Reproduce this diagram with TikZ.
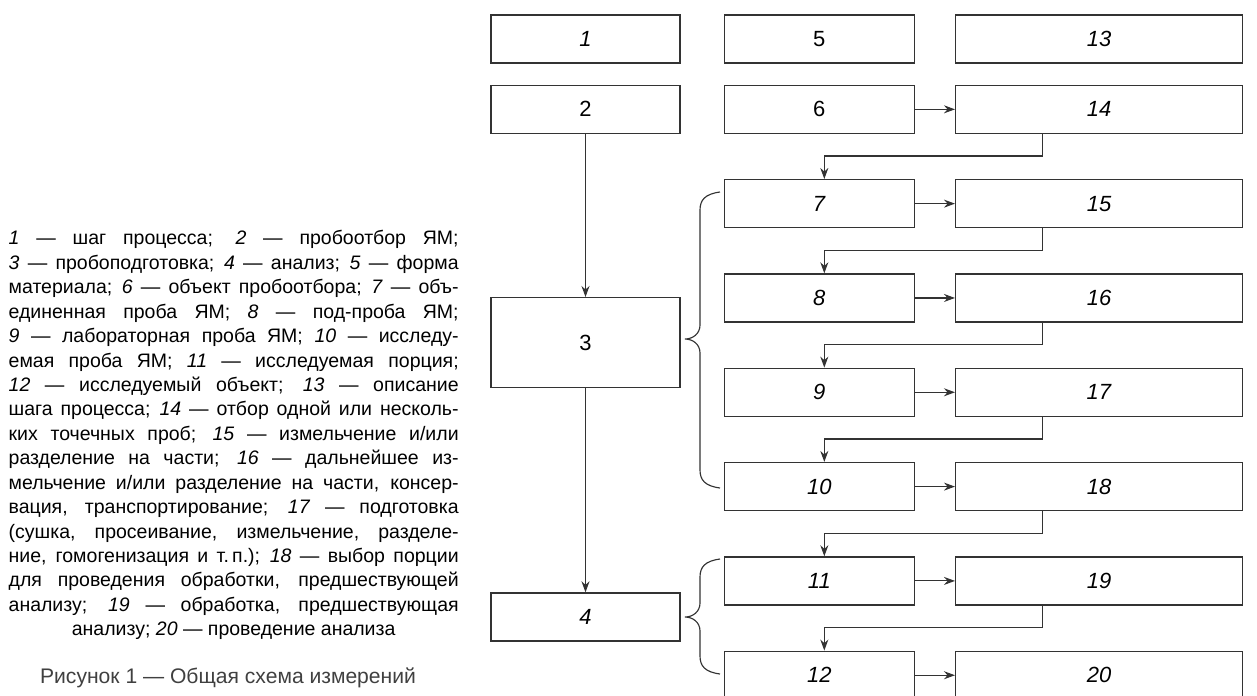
\documentclass[tikz,border=0pt]{standalone}
\usepackage{fontspec}
\setmainfont{Liberation Sans}
\usetikzlibrary{arrows.meta,positioning}

\begin{document}
\begin{tikzpicture}[
    line width=0.75pt, draw=black!80,
    boxa/.style={draw, minimum width=3.78cm, minimum height=0.96cm, font=\fontsize{12.5}{14}\selectfont},
    boxb/.style={draw, minimum width=3.8cm, minimum height=0.96cm, font=\fontsize{12.5}{14}\selectfont},
    boxc/.style={draw, minimum width=5.74cm, minimum height=0.96cm, font=\fontsize{12.5}{14}\selectfont},
    link/.style={-{Stealth[length=2.2mm, width=1.6mm]}, line width=0.65pt},
    brc/.style={line width=0.65pt},
    legend/.style={text width=9cm, align=justify, inner sep=0pt, font=\fontsize{11.1}{13.9}\selectfont}
]
\useasboundingbox (0,0) rectangle (25.14,-13.9);
% left column
\node[boxa] (n1) at (11.71,-0.78) {\textit{1}};
\node[boxa, below=0.42cm of n1] (n2) {2};
\node[boxa, below=3.26cm of n2, minimum height=1.8cm] (n3) {3};
\node[boxa, below=4.08cm of n3] (n4) {\textit{4}};
% middle column
\node[boxb, right=0.86cm of n1] (n5) {5};
\node[boxb, below=0.42cm of n5] (n6) {6};
\node[boxb, below=0.9cm of n6] (n7) {\textit{7}};
\node[boxb, below=0.9cm of n7] (n8) {\textit{8}};
\node[boxb, below=0.9cm of n8] (n9) {\textit{9}};
\node[boxb, below=0.9cm of n9] (n10) {\textit{10}};
\node[boxb, below=0.9cm of n10] (n11) {\textit{11}};
\node[boxb, below=0.9cm of n11] (n12) {\textit{12}};
% right column
\node[boxc, right=0.8cm of n5] (n13) {\textit{13}};
\node[boxc, right=0.8cm of n6] (n14) {\textit{14}};
\node[boxc, right=0.8cm of n7] (n15) {\textit{15}};
\node[boxc, right=0.8cm of n8] (n16) {\textit{16}};
\node[boxc, right=0.8cm of n9] (n17) {\textit{17}};
\node[boxc, right=0.8cm of n10] (n18) {\textit{18}};
\node[boxc, right=0.8cm of n11] (n19) {\textit{19}};
\node[boxc, right=0.8cm of n12] (n20) {\textit{20}};

\draw[link] (n2) -- (n3);
\draw[link] (n3) -- (n4);
\foreach \a/\b in {6/14,7/15,8/16,9/17,10/18,11/19,12/20}
    \draw[link] (n\a) -- (n\b);
\foreach \a/\b in {14/7,15/8,16/9,17/10,18/11,19/12}
    \draw[link] ([xshift=-1.13cm]n\a.south) -- ++(0,-0.44) -| ([xshift=0.1cm]n\b.north);

% braces
\draw[brc] (14.4,-3.84) .. controls (14.1,-3.88) and (14.0,-4.0) .. (14.0,-4.2) -- (14.0,-6.5)
    .. controls (14.0,-6.68) and (13.85,-6.78) .. (13.7,-6.78)
    .. controls (13.85,-6.78) and (14.0,-6.88) .. (14.0,-7.06) -- (14.0,-9.4)
    .. controls (14.0,-9.6) and (14.1,-9.72) .. (14.4,-9.76);
\draw[brc] (14.4,-11.18) .. controls (14.1,-11.22) and (14.0,-11.34) .. (14.0,-11.54) -- (14.0,-12.06)
    .. controls (14.0,-12.24) and (13.85,-12.34) .. (13.7,-12.34)
    .. controls (13.85,-12.34) and (14.0,-12.44) .. (14.0,-12.62) -- (14.0,-13.12)
    .. controls (14.0,-13.32) and (14.1,-13.44) .. (14.4,-13.48);

% legend and caption
\node[legend, anchor=north west] (leg) at (0.16,-4.6) {\noindent\parfillskip=0pt
\textit{1} — шаг процесса; \textit{2} — пробоотбор ЯМ;\linebreak
\textit{3} — пробоподготовка; \textit{4} — анализ; \textit{5} — форма\linebreak
материала; \textit{6} — объект пробоотбора; \textit{7} — объ-\linebreak
единенная проба ЯМ; \textit{8} — под-проба ЯМ;\linebreak
\textit{9} — лабораторная проба ЯМ; \textit{10} — исследу-\linebreak
емая проба ЯМ; \textit{11} — исследуемая порция;\linebreak
\textit{12} — исследуемый объект; \textit{13} — описание\linebreak
шага процесса; \textit{14} — отбор одной или несколь-\linebreak
ких точечных проб; \textit{15} — измельчение и/или\linebreak
разделение на части; \textit{16} — дальнейшее из-\linebreak
мельчение и/или разделение на части, консер-\linebreak
вация, транспортирование; \textit{17} — подготовка\linebreak
(сушка, просеивание, измельчение, разделе-\linebreak
ние, гомогенизация и т.\,п.); \textit{18} — выбор порции\linebreak
для проведения обработки, предшествующей\linebreak
анализу; \textit{19} — обработка, предшествующая\par
\centering анализу; \textit{20} — проведение анализа\par};
\node[font=\fontsize{12}{14}\selectfont, text=black!75] (cap) at (4.56,-13.56) {Рисунок 1 — Общая схема измерений};
\end{tikzpicture}
\end{document}
